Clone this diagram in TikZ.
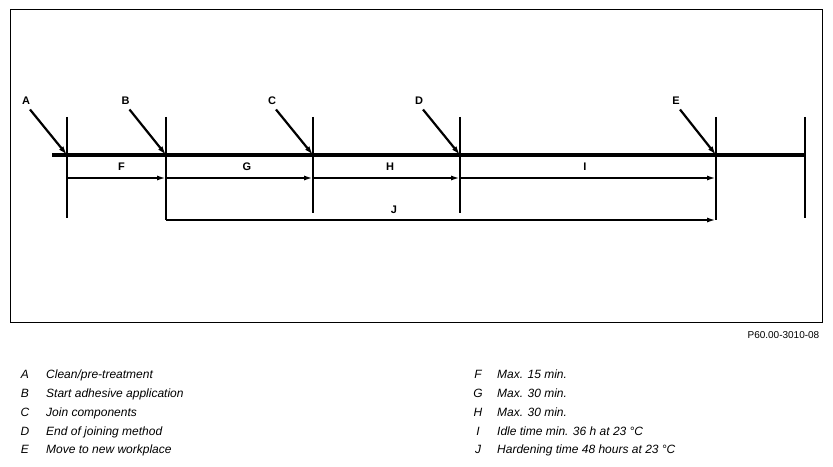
\documentclass[tikz,border=0pt]{standalone}
\usepackage{fontspec}
\setmainfont{Liberation Sans}
\usetikzlibrary{arrows.meta}
\begin{document}
\begin{tikzpicture}[x=1bp,y=-1bp,
  tickline/.style={line width=2bp},
  dimarrow/.style={line width=2bp,-{Latex[length=9bp,width=5bp]}},
  pointer/.style={line width=2.2bp,-{Latex[length=9bp,width=5.5bp]}},
  lbl/.style={font=\fontsize{11bp}{13bp}\selectfont\bfseries,inner sep=0pt},
  leg/.style={font=\fontsize{12bp}{14bp}\selectfont\itshape,inner sep=0pt,anchor=base west}]
\useasboundingbox (0,0) rectangle (833,467);
\draw[line width=1bp] (10.5,9.5) rectangle (822.5,322.5);
% vertical ticks
\coordinate (At) at (67,117); \coordinate (Ab) at (67,218);
\coordinate (Bt) at (166,117); \coordinate (Bb) at (166,220);
\coordinate (Ct) at (313,117); \coordinate (Cb) at (313,213);
\coordinate (Dt) at (460,117); \coordinate (Db) at (460,213);
\coordinate (Et) at (716,117); \coordinate (Eb) at (716,220);
\coordinate (Zt) at (805,117); \coordinate (Zb) at (805,218);
\foreach \p in {A,B,C,D,E}{\draw[tickline] (\p t) -- (\p b);}
\draw[line width=2.4bp] (Zt) -- (Zb);
% main thick line
\coordinate (M0) at (52,155); \coordinate (M1) at (806,155);
\draw[line width=4.5bp] (M0) -- (M1);
% main points
\coordinate (Ap) at (67,155); \coordinate (Bp) at (166,155);
\coordinate (Cp) at (313,155); \coordinate (Dp) at (460,155);
\coordinate (Ep) at (716,155);
% pointer labels
\node[lbl] (A) at (26,100.5) {A};
\node[lbl] (B) at (125.5,100.5) {B};
\node[lbl] (C) at (272,100.5) {C};
\node[lbl] (D) at (419,100.5) {D};
\node[lbl] (E) at (676,100.5) {E};
\foreach \p in {A,B,C,D,E}{\draw[pointer] ([shift={(4,9)}]\p.center) -- (\p p);}
% dimension arrows
\coordinate (Af) at (67,178); \coordinate (Bf) at (166,178);
\coordinate (Cf) at (313,178); \coordinate (Df) at (460,178);
\coordinate (Ef) at (716,178);
\coordinate (Bj) at (166,220); \coordinate (Ej) at (716,220);
\draw[dimarrow] (Af) -- (Bf);
\draw[dimarrow] (Bf) -- (Cf);
\draw[dimarrow] (Cf) -- (Df);
\draw[dimarrow] (Df) -- (Ef);
\draw[dimarrow] (Bj) -- (Ej);
\node[lbl] (F) at (121.5,167) {F};
\node[lbl] (G) at (247,167) {G};
\node[lbl] (H) at (390,167) {H};
\node[lbl] (I) at (585,167) {I};
\node[lbl] (J) at (394,209.5) {J};
% reference
\node[font=\fontsize{10bp}{11bp}\selectfont,inner sep=0pt,anchor=base east] (ref) at (819.5,339) {P60.00-3010-08};
% legend
\foreach \k/\t/\y in {A/Clean\slash pre-treatment/379, B/Start adhesive application/397.7, C/Join components/416.4, D/End of joining method/435.1, E/Move to new workplace/453.8}{
  \node[leg,anchor=base] (l\k) at (25,\y) {\k};
  \node[leg] (t\k) at (46,\y) {\t};
}
\foreach \k/\t/\y in {F/Max. 15 min./379, G/Max. 30 min./397.7, H/Max. 30 min./416.4, I/Idle time min. 36 h at 23 °C/435.1, J/Hardening time 48 hours at 23 °C/453.8}{
  \node[leg,anchor=base] (l\k) at (478,\y) {\k};
  \node[leg] (t\k) at (497,\y) {\t};
}
\end{tikzpicture}
\end{document}
